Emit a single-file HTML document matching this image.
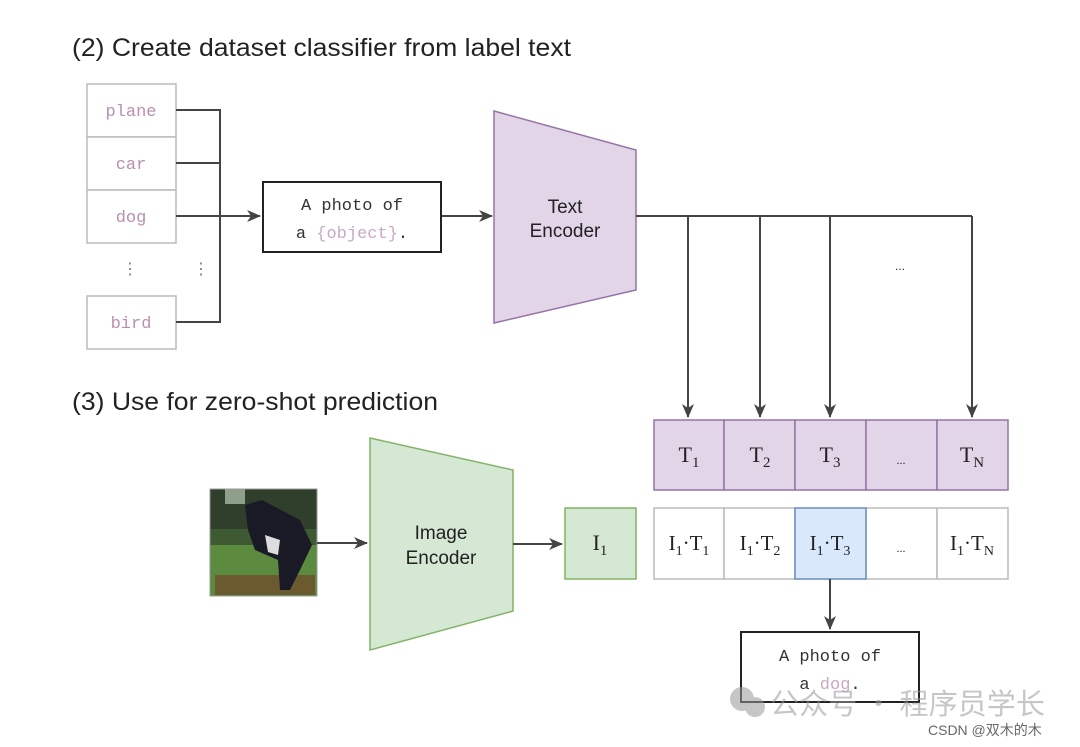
<!DOCTYPE html>
<html><head><meta charset="utf-8"><style>
html,body{margin:0;padding:0;background:#fff;}
svg{display:block;}
.t{font-family:"Liberation Sans",sans-serif;fill:#222;}
.m{font-family:"Liberation Mono",monospace;font-size:17px;}
.s{font-family:"Liberation Serif",serif;fill:#222;}
</style></head><body>
<svg width="1080" height="747" viewBox="0 0 1080 747" xmlns="http://www.w3.org/2000/svg">
<defs>
<marker id="b" markerWidth="14" markerHeight="12" refX="13" refY="6" orient="auto" markerUnits="userSpaceOnUse">
<path d="M0,0 L14,6 L0,12 L4,6 z" fill="#444"/></marker>
</defs>
<text class="t" x="72" y="56" font-size="25" textLength="499" lengthAdjust="spacingAndGlyphs">(2) Create dataset classifier from label text</text>
<text class="t" x="72" y="410" font-size="25" textLength="366" lengthAdjust="spacingAndGlyphs">(3) Use for zero-shot prediction</text>

<g fill="#fff" stroke="#bbb" stroke-width="1.5">
<rect x="87" y="84" width="89" height="53"/>
<rect x="87" y="137" width="89" height="53"/>
<rect x="87" y="190" width="89" height="53"/>
<rect x="87" y="296" width="89" height="53"/>
</g>
<g class="m" fill="#b98fb0" text-anchor="middle">
<text x="131" y="116">plane</text>
<text x="131" y="169">car</text>
<text x="131" y="222">dog</text>
<text x="131" y="328">bird</text>
</g>
<g font-size="16" class="t" text-anchor="middle"><text x="130" y="274" fill="#777">⋮</text><text x="201" y="274" fill="#777">⋮</text></g>
<g stroke="#444" stroke-width="2" fill="none">
<path d="M176,110 H220 V322 H176"/>
<path d="M176,163 H220"/>
<path d="M176,216 H260" marker-end="url(#b)"/>
<path d="M441,216 H492" marker-end="url(#b)"/>
</g>
<rect x="263" y="182" width="178" height="70" fill="#fff" stroke="#222" stroke-width="2"/>
<text class="m" x="352" y="210" text-anchor="middle" fill="#333">A photo of</text>
<text class="m" x="352" y="238" text-anchor="middle" fill="#333">a <tspan fill="#c9a9c3">{object}</tspan>.</text>

<polygon points="494,111 636,150 636,290 494,323" fill="#e1d5e7" stroke="#9673a6" stroke-width="1.5"/>
<text class="t" x="565" y="213" font-size="19" text-anchor="middle">Text</text>
<text class="t" x="565" y="237" font-size="19" text-anchor="middle">Encoder</text>

<g stroke="#444" stroke-width="2" fill="none">
<path d="M636,216 H972"/>
<path d="M688,216 V417" marker-end="url(#b)"/>
<path d="M760,216 V417" marker-end="url(#b)"/>
<path d="M830,216 V417" marker-end="url(#b)"/>
<path d="M972,216 V417" marker-end="url(#b)"/>
</g>
<text class="t" x="900" y="270" font-size="12" text-anchor="middle" fill="#444">...</text>

<g fill="#e1d5e7" stroke="#9673a6" stroke-width="1.5">
<rect x="654" y="420" width="70" height="70"/><rect x="724" y="420" width="71" height="70"/>
<rect x="795" y="420" width="71" height="70"/><rect x="866" y="420" width="71" height="70"/>
<rect x="937" y="420" width="71" height="70"/>
</g>
<g class="s" font-size="22" text-anchor="middle">
<text x="689" y="462">T<tspan font-size="15" dy="5">1</tspan></text>
<text x="760" y="462">T<tspan font-size="15" dy="5">2</tspan></text>
<text x="830" y="462">T<tspan font-size="15" dy="5">3</tspan></text>
<text x="901" y="464" font-size="12">...</text>
<text x="972" y="462">T<tspan font-size="15" dy="5">N</tspan></text>
</g>

<g stroke="#bbb" stroke-width="1.5" fill="#fff">
<rect x="654" y="508" width="70" height="71"/><rect x="724" y="508" width="71" height="71"/>
<rect x="866" y="508" width="71" height="71"/><rect x="937" y="508" width="71" height="71"/>
</g>
<rect x="795" y="508" width="71" height="71" fill="#dae8fc" stroke="#6c8ebf" stroke-width="1.5"/>
<g class="s" font-size="21" text-anchor="middle">
<text x="689" y="550">I<tspan font-size="14" dy="5">1</tspan><tspan dy="-5">·T</tspan><tspan font-size="14" dy="5">1</tspan></text>
<text x="760" y="550">I<tspan font-size="14" dy="5">1</tspan><tspan dy="-5">·T</tspan><tspan font-size="14" dy="5">2</tspan></text>
<text x="830" y="550">I<tspan font-size="14" dy="5">1</tspan><tspan dy="-5">·T</tspan><tspan font-size="14" dy="5">3</tspan></text>
<text x="901" y="552" font-size="12">...</text>
<text x="972" y="550">I<tspan font-size="14" dy="5">1</tspan><tspan dy="-5">·T</tspan><tspan font-size="14" dy="5">N</tspan></text>
</g>

<rect x="565" y="508" width="71" height="71" fill="#d5e8d4" stroke="#82b366" stroke-width="1.5"/>
<text class="s" x="600" y="550" font-size="22" text-anchor="middle">I<tspan font-size="15" dy="5">1</tspan></text>

<polygon points="370,438 513,470 513,611 370,650" fill="#d5e8d4" stroke="#82b366" stroke-width="1.5"/>
<text class="t" x="441" y="539" font-size="19" text-anchor="middle">Image</text>
<text class="t" x="441" y="564" font-size="19" text-anchor="middle">Encoder</text>

<g>
<rect x="210" y="489" width="107" height="107" fill="#3d5a32"/>
<rect x="210" y="489" width="107" height="40" fill="#2f3f2c"/>
<rect x="225" y="489" width="20" height="15" fill="#8fa08a"/>
<rect x="210" y="545" width="107" height="51" fill="#5c8a3e"/>
<rect x="215" y="575" width="100" height="20" fill="#6b5a30"/>
<path d="M245,505 L262,500 L300,520 L312,545 L300,570 L290,590 L280,590 L278,560 L255,550 L248,530 Z" fill="#1a1a26"/>
<path d="M265,535 L280,540 L278,555 L268,552 Z" fill="#ddd"/>
<rect x="210" y="489" width="107" height="107" fill="none" stroke="#999"/>
</g>

<g stroke="#444" stroke-width="2" fill="none">
<path d="M317,543 H367" marker-end="url(#b)"/>
<path d="M513,544 H562" marker-end="url(#b)"/>
<path d="M830,579 V629" marker-end="url(#b)"/>
</g>

<rect x="741" y="632" width="178" height="70" fill="#fff" stroke="#222" stroke-width="2"/>
<text class="m" x="830" y="661" text-anchor="middle" fill="#333">A photo of</text>
<text class="m" x="830" y="689" text-anchor="middle" fill="#333">a <tspan fill="#c9a9c3">dog</tspan>.</text>

<g opacity="0.55">
<circle cx="742" cy="699" r="12" fill="#999"/><circle cx="755" cy="707" r="10" fill="#999"/>
<text x="770" y="714" font-size="29" fill="#999" font-family="'Noto Sans CJK SC',sans-serif" textLength="275" lengthAdjust="spacingAndGlyphs">公众号 · 程序员学长</text>
</g>
<text x="928" y="735" font-size="14" fill="#666" font-family="'Liberation Sans','Noto Sans CJK SC',sans-serif">CSDN @双木的木</text>
</svg>
</body></html>
